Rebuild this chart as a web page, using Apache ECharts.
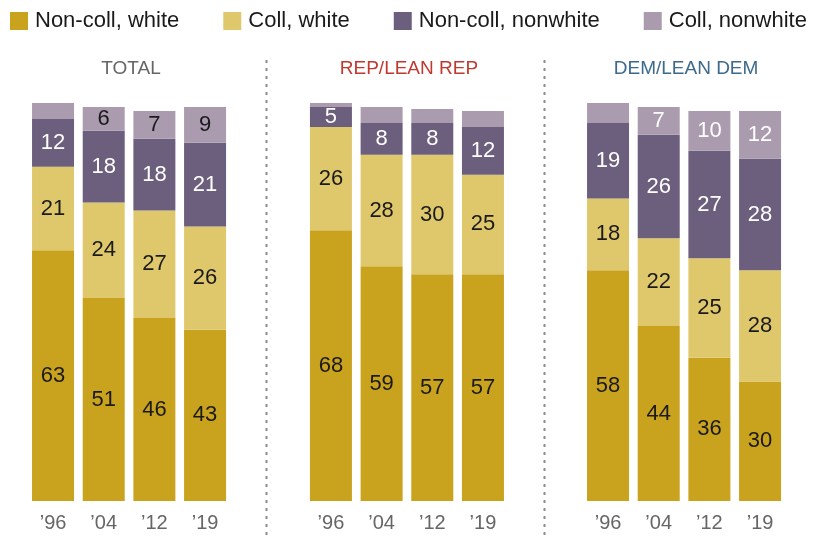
<!DOCTYPE html>
<html>
<head>
<meta charset="utf-8">
<script src="https://cdn.jsdelivr.net/npm/echarts@6/dist/echarts.min.js"></script>
<style>
html,body{margin:0;padding:0;background:#fff;}
#chart{width:820px;height:536px;}
</style>
</head>
<body>
<div id="chart"></div>
<script>
const years = ["\u201996", "\u201904", "\u201912", "\u201919"];
const groups = ["Non-coll, white", "Coll, white", "Non-coll, nonwhite", "Coll, nonwhite"];
const panels = ["TOTAL", "REP/LEAN REP", "DEM/LEAN DEM"];

const totalNonCollWhite = [63, 51, 46, 43];
const totalCollWhite = [21, 24, 27, 26];
const totalNonCollNonwhite = [12, 18, 18, 21];
const totalCollNonwhite = [4, 6, 7, 9];

const repNonCollWhite = [68, 59, 57, 57];
const repCollWhite = [26, 28, 30, 25];
const repNonCollNonwhite = [5, 8, 8, 12];
const repCollNonwhite = [1.5, 4, 3.5, 4];

const demNonCollWhite = [58, 44, 36, 30];
const demCollWhite = [18, 22, 25, 28];
const demNonCollNonwhite = [19, 26, 27, 28];
const demCollNonwhite = [5, 7, 10, 12];

const panelData = [
  [totalNonCollWhite, totalCollWhite, totalNonCollNonwhite, totalCollNonwhite],
  [repNonCollWhite, repCollWhite, repNonCollNonwhite, repCollNonwhite],
  [demNonCollWhite, demCollWhite, demNonCollNonwhite, demCollNonwhite]
];

const FONT = "Liberation Sans, Arial, sans-serif";
const colors = ["#c9a21e", "#dfc86c", "#6c5f7d", "#aa9baf"];
const titleColors = ["#666666", "#c0392f", "#3d6a8c"];
const lastLabelColors = ["#1a1a1a", "#1a1a1a", "#ffffff"];
const labelColors = ["#1a1a1a", "#1a1a1a", "#ffffff"];

const gridLefts = [27.7, 305.6, 582.7];
const gridW = 202.7;
const gridTop = 103, gridH = 398;

const grids = [], xAxes = [], yAxes = [], series = [], graphics = [];
panels.forEach((p, i) => {
  grids.push({left: gridLefts[i], top: gridTop, width: gridW, height: gridH});
  xAxes.push({
    type: 'category', gridIndex: i, data: years,
    axisLine: {show: false}, axisTick: {show: false},
    axisLabel: {color: '#666666', fontSize: 20, fontFamily: FONT, margin: 12}
  });
  yAxes.push({type: 'value', gridIndex: i, min: 0, max: 100, show: false});
  groups.forEach((g, k) => {
    series.push({
      name: g, type: 'bar', stack: 'p' + i,
      xAxisIndex: i, yAxisIndex: i,
      data: panelData[i][k],
      barWidth: 42,
      itemStyle: {color: colors[k]},
      label: {
        show: true, position: 'inside',
        fontSize: 22, fontFamily: FONT,
        color: k === 3 ? lastLabelColors[i] : labelColors[k],
        formatter: (k === 3) ? (prm => prm.value >= 6 ? String(prm.value) : '') : (prm => String(prm.value))
      },
      emphasis: {disabled: true}
    });
  });
  graphics.push({
    type: 'text', x: gridLefts[i] + gridW / 2 + 2, y: 69,
    style: {text: p, fill: titleColors[i], font: '19px ' + FONT, textAlign: 'center', textVerticalAlign: 'middle'}
  });
});

[266.5, 544.5].forEach(x => {
  graphics.push({
    type: 'line', shape: {x1: x, y1: 60, x2: x, y2: 536},
    style: {stroke: '#8a8a8a', lineWidth: 2, lineDash: [3, 5]}
  });
});

const chart = echarts.init(document.getElementById('chart'), null, {renderer: 'canvas'});
chart.setOption({
  animation: false,
  legend: {
    data: groups, left: 10, top: 10, padding: 0,
    itemWidth: 18, itemHeight: 18, itemGap: 44, icon: 'rect',
    textStyle: {fontSize: 22, fontFamily: FONT, color: '#1a1a1a', padding: [0, 0, 0, 2]}
  },
  grid: grids, xAxis: xAxes, yAxis: yAxes, series: series,
  graphic: graphics
});
</script>
</body>
</html>
